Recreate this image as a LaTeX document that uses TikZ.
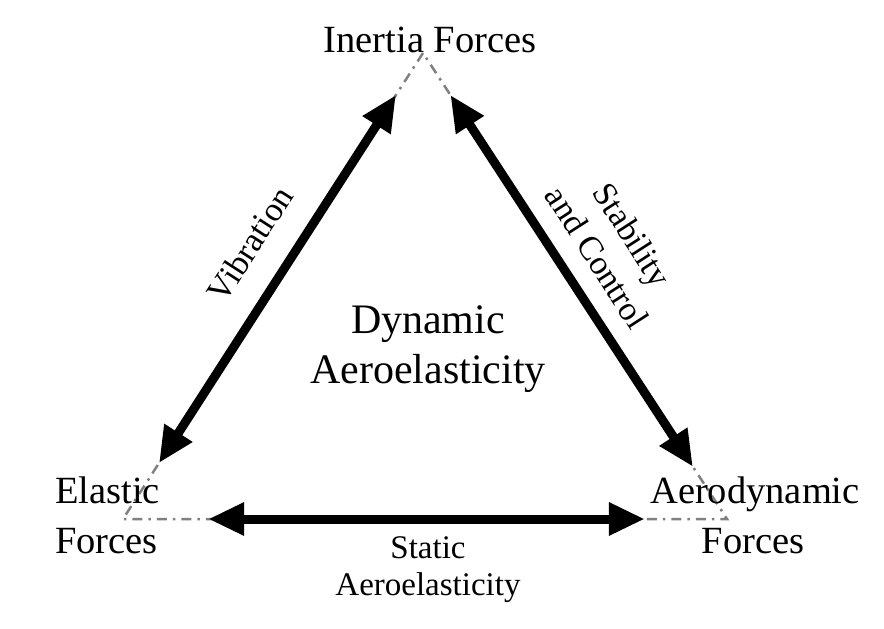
\documentclass[tikz,border=0pt]{standalone}
\usepackage{fontspec}
\setmainfont{Liberation Serif}
\usetikzlibrary{arrows.meta,calc}
\definecolor{guidegray}{HTML}{808080}
\tikzset{
  guide/.style={draw=guidegray, line width=2.5pt, dash pattern=on 10pt off 6pt on 2.5pt off 6pt},
  bigarrow/.style={line width=9pt, {Triangle[length=36pt,width=31pt]}-{Triangle[length=36pt,width=31pt]}},
  lbl/.style={font=\fontsize{38.5}{46}\selectfont, inner sep=0pt},
  biglbl/.style={font=\fontsize{42}{50}\selectfont, inner sep=0pt},
  midlbl/.style={font=\fontsize{33}{39}\selectfont, inner sep=0pt},
  sidelbl/.style={font=\fontsize{34}{42}\selectfont, inner sep=0pt}
}
\begin{document}
\begin{tikzpicture}[x=1pt,y=-1pt]
\useasboundingbox (0,0) rectangle (884,629);
\coordinate (T) at (423,53);
\coordinate (L) at (123,519);
\coordinate (R) at (727,519);
\coordinate (LT) at ($(T)!0.09!(L)$);
\coordinate (LB) at ($(T)!0.88!(L)$);
\coordinate (RT) at ($(T)!0.09!(R)$);
\coordinate (RB) at ($(T)!0.888!(R)$);
\coordinate (BL) at ($(L)!0.141!(R)$);
\coordinate (BR) at ($(L)!0.864!(R)$);
\draw[guide] (T) -- (L) -- (R) -- cycle;
\draw[bigarrow] (LB) -- (LT);
\draw[bigarrow] (RT) -- (RB);
\draw[bigarrow] (BL) -- (BR);
\node[lbl, anchor=base] (inertia) at (430,52) {Inertia Forces};
\node[lbl, anchor=base west] (el1) at (55,503) {Elastic};
\node[lbl, anchor=base west] (el2) at (55,553) {Forces};
\node[lbl, anchor=base] (ae1) at (755,503) {Aerodynamic};
\node[lbl, anchor=base] (ae2) at (753,553) {Forces};
\node[biglbl, anchor=base] (dy1) at (428,333) {Dynamic};
\node[biglbl, anchor=base] (dy2) at (428,383) {Aeroelasticity};
\node[midlbl, anchor=base] (st1) at (428,558) {Static};
\node[midlbl, anchor=base] (st2) at (428,595) {Aeroelasticity};
\node[sidelbl, rotate=57.2] (vib) at (250,244) {Vibration};
\node[sidelbl, rotate=-57.2, align=center] (stab) at (615,246) {Stability\\and Control};
\end{tikzpicture}
\end{document}
